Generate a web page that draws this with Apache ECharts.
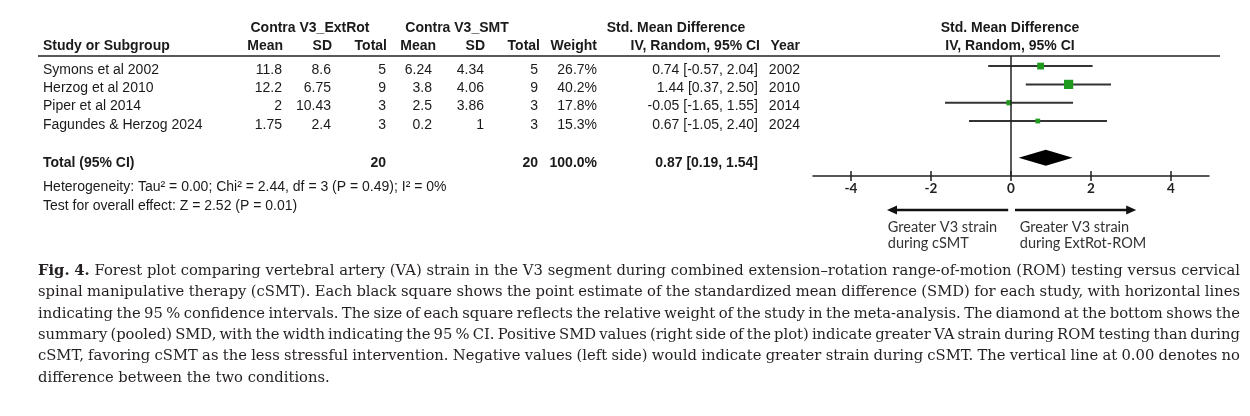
<!DOCTYPE html>
<html><head><meta charset="utf-8">
<script src="https://cdn.jsdelivr.net/npm/echarts@6/dist/echarts.min.js"></script>
<style>html,body{margin:0;padding:0;background:#fff}#c{width:1250px;height:416px}</style>
</head><body><div id="c"></div>
<script>
// ---------------- data ----------------
const studies = ['Symons et al 2002', 'Herzog et al 2010', 'Piper et al 2014', 'Fagundes & Herzog 2024'];
const extMean = ['11.8', '12.2', '2', '1.75'];
const extSD = ['8.6', '6.75', '10.43', '2.4'];
const extN = [5, 9, 3, 3];
const smtMean = ['6.24', '3.8', '2.5', '0.2'];
const smtSD = ['4.34', '4.06', '3.86', '1'];
const smtN = [5, 9, 3, 3];
const weights = [26.7, 40.2, 17.8, 15.3];
const smd = [0.74, 1.44, -0.05, 0.67];
const ciLow = [-0.57, 0.37, -1.65, -1.05];
const ciHigh = [2.04, 2.50, 1.55, 2.40];
const years = [2002, 2010, 2014, 2024];
const pooledSMD = 0.87, pooledLow = 0.19, pooledHigh = 1.54;
const extTotal = 20, smtTotal = 20, totalWeight = '100.0%';
const xTicks = [-4, -2, 0, 2, 4];
const heterogeneityText = 'Heterogeneity: Tau\u00b2 = 0.00; Chi\u00b2 = 2.44, df = 3 (P = 0.49); I\u00b2 = 0%';
const overallText = 'Test for overall effect: Z = 2.52 (P = 0.01)';
const leftLabel = 'Greater V3 strain\nduring cSMT';
const rightLabel = 'Greater V3 strain\nduring ExtRot-ROM';
const captionLines = [
  'Fig. 4. Forest plot comparing vertebral artery (VA) strain in the V3 segment during combined extension\u2013rotation range-of-motion (ROM) testing versus cervical',
  'spinal manipulative therapy (cSMT). Each black square shows the point estimate of the standardized mean difference (SMD) for each study, with horizontal lines',
  'indicating the 95 % confidence intervals. The size of each square reflects the relative weight of the study in the meta-analysis. The diamond at the bottom shows the',
  'summary (pooled) SMD, with the width indicating the 95 % CI. Positive SMD values (right side of the plot) indicate greater VA strain during ROM testing than during',
  'cSMT, favoring cSMT as the less stressful intervention. Negative values (left side) would indicate greater strain during cSMT. The vertical line at 0.00 denotes no',
  'difference between the two conditions.'
];

// ---------------- layout / style ----------------
const INK = '#1a1a1a';
const SANS = '"Liberation Sans", Arial, sans-serif';
const FS = 14;
const fmt = v => v.toFixed(2);
const ciText = (m, l, h) => fmt(m) + ' [' + fmt(l) + ', ' + fmt(h) + ']';

function T(text, x, y, align, bold, extra) {
  return {
    type: 'text', x: x, y: y, silent: true,
    style: Object.assign({
      text: text, fill: INK, fontFamily: SANS, fontSize: FS,
      fontWeight: bold ? 'bold' : 'normal',
      align: align, textAlign: align, verticalAlign: 'middle', textVerticalAlign: 'middle'
    }, extra || {})
  };
}

const graphics = [];
// header
const h1 = 28, h2 = 46;
graphics.push(T('Contra V3_ExtRot', 310, h1, 'center', true));
graphics.push(T('Contra V3_SMT', 457, h1, 'center', true));
graphics.push(T('Std. Mean Difference', 676, h1, 'center', true));
graphics.push(T('Std. Mean Difference', 1010, h1, 'center', true));
graphics.push(T('Study or Subgroup', 43, h2, 'left', true));
[['Mean', 283], ['SD', 332], ['Total', 387], ['Mean', 436], ['SD', 485], ['Total', 540],
 ['Weight', 597], ['IV, Random, 95% CI', 760], ['Year', 800]].forEach(([t, x]) => graphics.push(T(t, x, h2, 'right', true)));
graphics.push(T('IV, Random, 95% CI', 1010, h2, 'center', true));
graphics.push({ type: 'line', silent: true, shape: { x1: 38, y1: 56, x2: 1220, y2: 56 }, style: { stroke: '#222', lineWidth: 1.5 } });

// rows
studies.forEach((s, i) => {
  const y = 70 + i * 18.3;
  graphics.push(T(s, 43, y, 'left'));
  graphics.push(T(extMean[i], 282, y, 'right'));
  graphics.push(T(extSD[i], 331, y, 'right'));
  graphics.push(T(String(extN[i]), 386, y, 'right'));
  graphics.push(T(smtMean[i], 432, y, 'right'));
  graphics.push(T(smtSD[i], 484, y, 'right'));
  graphics.push(T(String(smtN[i]), 538, y, 'right'));
  graphics.push(T(weights[i].toFixed(1) + '%', 597, y, 'right'));
  graphics.push(T(ciText(smd[i], ciLow[i], ciHigh[i]), 758, y, 'right'));
  graphics.push(T(String(years[i]), 800, y, 'right'));
});
// totals
const ty = 163;
graphics.push(T('Total (95% CI)', 43, ty, 'left', true));
graphics.push(T(String(extTotal), 386, ty, 'right', true));
graphics.push(T(String(smtTotal), 538, ty, 'right', true));
graphics.push(T(totalWeight, 597, ty, 'right', true));
graphics.push(T(ciText(pooledSMD, pooledLow, pooledHigh), 758, ty, 'right', true));
graphics.push(T(heterogeneityText, 43, 187, 'left'));
graphics.push(T(overallText, 43, 206, 'left'));

// caption (justified)
const CAP_FAMILY = '"DejaVu Serif", "Liberation Serif", serif';
const mctx = document.createElement('canvas').getContext('2d');
const capX0 = 38, capX1 = 1240, capW = capX1 - capX0;
function capFont(bold, fs) { return (bold ? 'bold ' : '') + fs + 'px ' + CAP_FAMILY; }
function measureLine(line, li, fs) {
  const toks = line.split(' ').map((w, wi) => ({ t: w, bold: li === 0 && wi < 2 }));
  let total = 0;
  toks.forEach(k => { mctx.font = capFont(k.bold, fs); k.w = mctx.measureText(k.t).width; total += k.w; });
  return { toks, total };
}
let CAP_FS = 15.5;
for (; CAP_FS > 11; CAP_FS -= 0.25) {
  const ok = captionLines.slice(0, -1).every((line, li) => {
    const m = measureLine(line, li, CAP_FS);
    return m.total + (m.toks.length - 1) * 3 <= capW;
  });
  if (ok) break;
}
captionLines.forEach((line, li) => {
  const m = measureLine(line, li, CAP_FS);
  mctx.font = capFont(false, CAP_FS);
  const sp = mctx.measureText(' ').width;
  const last = li === captionLines.length - 1;
  const gap = last ? sp : (capW - m.total) / (m.toks.length - 1);
  let x = capX0;
  const y = 271 + li * 21.4;
  m.toks.forEach(k => {
    graphics.push({
      type: 'text', x: x, y: y, silent: true,
      style: { text: k.t, fill: '#231f20', fontFamily: CAP_FAMILY, fontSize: CAP_FS,
        fontWeight: k.bold ? 'bold' : 'normal', align: 'left', textAlign: 'left', verticalAlign: 'middle', textVerticalAlign: 'middle' }
    });
    x += k.w + gap;
  });
});

// ---------------- chart ----------------
const chart = echarts.init(document.getElementById('c'), null, { renderer: 'canvas' });
const studyData = studies.map((s, i) => [smd[i], i, ciLow[i], ciHigh[i], weights[i]]);
const GREEN = '#1f9a1f';
const gridBox = { left: 813, top: 56, width: 396, height: 120, containLabel: false };

const option = {
  animation: false,
  backgroundColor: '#fff',
  grid: [Object.assign({}, gridBox), Object.assign({}, gridBox)],
  xAxis: [{
    type: 'value', min: -4.95, max: 4.95, position: 'bottom', gridIndex: 0,
    axisLine: { show: true, onZero: false, lineStyle: { color: '#222', width: 1.5 } },
    axisTick: { show: true, customValues: xTicks, length: 5, lineStyle: { color: '#222', width: 1.5 } },
    axisLabel: { show: true, customValues: xTicks, color: '#222', fontFamily: 'Lato, sans-serif', fontSize: 13.5, fontWeight: 'bold', margin: 6 },
    splitLine: { show: false }
  }, {
    type: 'value', min: -4.95, max: 4.95, position: 'bottom', gridIndex: 1,
    axisLine: { show: false, onZero: false },
    axisTick: { show: true, inside: true, customValues: xTicks, length: 5, lineStyle: { color: '#222', width: 1.5 } },
    axisLabel: { show: false },
    splitLine: { show: false }
  }],
  yAxis: [
    { type: 'value', min: -0.55, max: 6, inverse: true, show: false, gridIndex: 0, splitLine: { show: false } },
    { type: 'value', min: -0.55, max: 6, inverse: true, show: false, gridIndex: 1, splitLine: { show: false } }
  ],
  series: [{
    type: 'custom', name: 'studies', xAxisIndex: 0, yAxisIndex: 0,
    data: studyData, encode: { x: [0, 2, 3], y: 1 },
    renderItem: function (params, api) {
      const yv = api.value(1);
      const p = api.coord([api.value(0), yv]);
      const l = api.coord([api.value(2), yv]);
      const h = api.coord([api.value(3), yv]);
      const s = 2 + 0.18 * api.value(4);
      return {
        type: 'group', children: [
          { type: 'line', shape: { x1: l[0], y1: l[1], x2: h[0], y2: h[1] }, style: { stroke: '#333', lineWidth: 2 } },
          { type: 'rect', shape: { x: p[0] - s / 2, y: p[1] - s / 2, width: s, height: s }, style: { fill: GREEN } }
        ]
      };
    }
  }, {
    type: 'custom', name: 'pooled', xAxisIndex: 0, yAxisIndex: 0,
    data: [[pooledSMD, 5, pooledLow, pooledHigh]], encode: { x: [0, 2, 3], y: 1 },
    renderItem: function (params, api) {
      const yv = api.value(1);
      const p = api.coord([api.value(0), yv]);
      const l = api.coord([api.value(2), yv]);
      const h = api.coord([api.value(3), yv]);
      return { type: 'polygon', shape: { points: [[l[0], l[1]], [p[0], p[1] - 8], [h[0], h[1]], [p[0], p[1] + 8]] }, style: { fill: '#000' } };
    },
    markLine: {
      silent: true, symbol: ['none', 'none'], label: { show: false },
      lineStyle: { color: '#222', width: 1.5, type: 'solid' },
      data: [{ xAxis: 0 }]
    }
  }],
  graphic: graphics
};
chart.setOption(option);

// direction arrows & labels positioned from the x axis scale
const px = v => chart.convertToPixel({ xAxisIndex: 0 }, v);
const ay = 210;
const arrowEls = [];
function arrow(xFrom, xTo) {
  const dir = xTo > xFrom ? 1 : -1;
  arrowEls.push({ type: 'line', silent: true, shape: { x1: xFrom, y1: ay, x2: xTo - dir * 7, y2: ay }, style: { stroke: '#111', lineWidth: 2.5 } });
  arrowEls.push({ type: 'polygon', silent: true, shape: { points: [[xTo, ay], [xTo - dir * 10, ay - 4.5], [xTo - dir * 10, ay + 4.5]] }, style: { fill: '#111' } });
}
arrow(px(-0.07), px(-3.1));
arrow(px(0.1), px(3.13));
const lblStyle = { fill: '#333', fontFamily: 'Lato, sans-serif', fontSize: 14.5, lineHeight: 16.5, align: 'left', textAlign: 'left', verticalAlign: 'top', textVerticalAlign: 'top' };
arrowEls.push({ type: 'text', silent: true, x: px(-3.08), y: 219, style: Object.assign({ text: leftLabel }, lblStyle) });
arrowEls.push({ type: 'text', silent: true, x: px(0.22), y: 219, style: Object.assign({ text: rightLabel }, lblStyle) });
chart.setOption({ graphic: graphics.concat(arrowEls) });
</script>
</body></html>
